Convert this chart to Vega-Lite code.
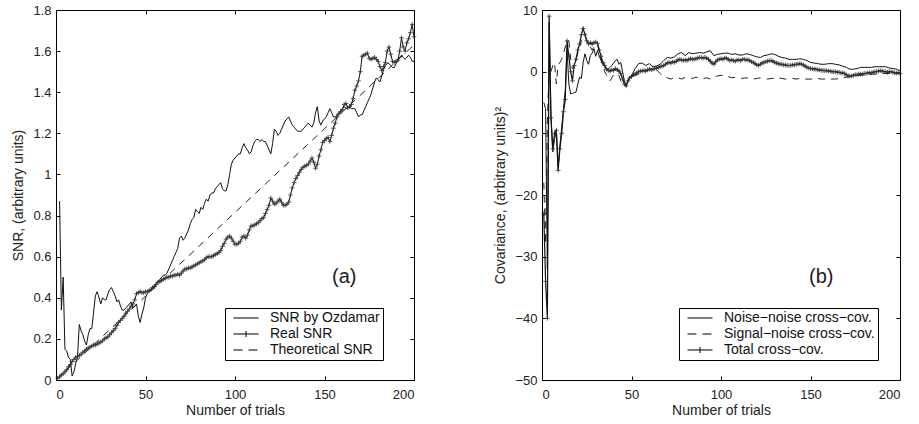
{
"$schema":"https://vega.github.io/schema/vega-lite/v6.json",
"background":"white",
"padding":{"left":11,"top":3,"right":2,"bottom":2},
"spacing":74,
"resolve":{"scale":{"shape":"independent"},"legend":{"shape":"independent"}},
"config":{
 "font":"Liberation Sans",
 "view":{"stroke":"#000","strokeWidth":1},
 "axis":{"domain":false,"grid":false,"tickSize":-4,"tickColor":"#000","labelColor":"#222","labelFontSize":13,"titleFontSize":14,"titleFontWeight":"normal","titleColor":"#222","labelFont":"Liberation Sans","titleFont":"Liberation Sans","format":"~r"},
 "axisX":{"labelPadding":12,"titlePadding":2},
 "axisY":{"labelPadding":9,"titlePadding":7},
 "legend":{"labelFontSize":14,"labelFont":"Liberation Sans","labelColor":"#111","strokeColor":"#000","fillColor":"#fff","padding":3,"symbolSize":100,"symbolStrokeWidth":1,"symbolStrokeColor":"#000","symbolFillColor":"transparent","symbolOpacity":1,"rowPadding":2,"labelOffset":17,"symbolOffset":11,"cornerRadius":0}
},
"datasets":{
"theo":[{"t":0,"v":0},{"t":20,"v":0.163},{"t":40,"v":0.326},{"t":60,"v":0.489},{"t":80,"v":0.652},{"t":100,"v":0.815},{"t":120,"v":0.978},{"t":140,"v":1.141},{"t":160,"v":1.304},{"t":180,"v":1.467},{"t":200,"v":1.63}],
"oz":[{"t":2,"v":0.87},{"t":3,"v":0.34},{"t":4,"v":0.5},{"t":5,"v":0.15},{"t":6,"v":0.14},{"t":7,"v":0.11},{"t":8,"v":0.1},{"t":9,"v":0.02},{"t":10,"v":0.04},{"t":11,"v":0.08},{"t":12,"v":0.11},{"t":13,"v":0.27},{"t":14,"v":0.24},{"t":15,"v":0.22},{"t":16,"v":0.19},{"t":17,"v":0.17},{"t":18,"v":0.22},{"t":19,"v":0.25},{"t":20,"v":0.25},{"t":21,"v":0.33},{"t":22,"v":0.41},{"t":23,"v":0.43},{"t":24,"v":0.4},{"t":25,"v":0.37},{"t":26,"v":0.4},{"t":27,"v":0.39},{"t":28,"v":0.39},{"t":29,"v":0.42},{"t":30,"v":0.44},{"t":31,"v":0.45},{"t":32,"v":0.43},{"t":33,"v":0.41},{"t":34,"v":0.38},{"t":35,"v":0.39},{"t":36,"v":0.36},{"t":37,"v":0.34},{"t":38,"v":0.34},{"t":39,"v":0.35},{"t":40,"v":0.36},{"t":41,"v":0.37},{"t":42,"v":0.38},{"t":43,"v":0.35},{"t":44,"v":0.36},{"t":45,"v":0.37},{"t":46,"v":0.31},{"t":47,"v":0.28},{"t":48,"v":0.32},{"t":49,"v":0.35},{"t":50,"v":0.4},{"t":51,"v":0.42},{"t":52,"v":0.43},{"t":53,"v":0.44},{"t":54,"v":0.45},{"t":55,"v":0.46},{"t":56,"v":0.47},{"t":57,"v":0.48},{"t":58,"v":0.49},{"t":59,"v":0.5},{"t":60,"v":0.51},{"t":61,"v":0.51},{"t":62,"v":0.52},{"t":63,"v":0.54},{"t":64,"v":0.56},{"t":65,"v":0.58},{"t":66,"v":0.6},{"t":67,"v":0.62},{"t":68,"v":0.64},{"t":69,"v":0.69},{"t":70,"v":0.7},{"t":71,"v":0.68},{"t":72,"v":0.69},{"t":73,"v":0.71},{"t":74,"v":0.73},{"t":75,"v":0.76},{"t":76,"v":0.78},{"t":77,"v":0.79},{"t":78,"v":0.83},{"t":79,"v":0.82},{"t":80,"v":0.81},{"t":81,"v":0.84},{"t":82,"v":0.83},{"t":83,"v":0.86},{"t":84,"v":0.88},{"t":85,"v":0.87},{"t":86,"v":0.9},{"t":87,"v":0.91},{"t":88,"v":0.91},{"t":89,"v":0.93},{"t":90,"v":0.94},{"t":91,"v":0.95},{"t":92,"v":0.96},{"t":93,"v":0.93},{"t":94,"v":0.92},{"t":95,"v":0.92},{"t":96,"v":0.95},{"t":97,"v":1.0},{"t":98,"v":1.05},{"t":99,"v":1.07},{"t":100,"v":1.08},{"t":101,"v":1.09},{"t":102,"v":1.1},{"t":103,"v":1.1},{"t":104,"v":1.13},{"t":105,"v":1.15},{"t":106,"v":1.13},{"t":107,"v":1.12},{"t":108,"v":1.1},{"t":109,"v":1.11},{"t":110,"v":1.14},{"t":111,"v":1.16},{"t":112,"v":1.17},{"t":113,"v":1.17},{"t":114,"v":1.16},{"t":115,"v":1.17},{"t":116,"v":1.16},{"t":117,"v":1.16},{"t":118,"v":1.14},{"t":119,"v":1.12},{"t":120,"v":1.1},{"t":121,"v":1.15},{"t":122,"v":1.22},{"t":123,"v":1.21},{"t":124,"v":1.19},{"t":125,"v":1.2},{"t":126,"v":1.22},{"t":127,"v":1.24},{"t":128,"v":1.26},{"t":129,"v":1.27},{"t":130,"v":1.28},{"t":131,"v":1.26},{"t":132,"v":1.24},{"t":133,"v":1.23},{"t":134,"v":1.22},{"t":135,"v":1.21},{"t":136,"v":1.21},{"t":137,"v":1.21},{"t":138,"v":1.22},{"t":139,"v":1.23},{"t":140,"v":1.24},{"t":141,"v":1.25},{"t":142,"v":1.24},{"t":143,"v":1.23},{"t":144,"v":1.25},{"t":145,"v":1.3},{"t":146,"v":1.33},{"t":147,"v":1.26},{"t":148,"v":1.24},{"t":149,"v":1.26},{"t":150,"v":1.27},{"t":151,"v":1.28},{"t":152,"v":1.3},{"t":153,"v":1.32},{"t":154,"v":1.3},{"t":155,"v":1.28},{"t":156,"v":1.28},{"t":157,"v":1.29},{"t":158,"v":1.3},{"t":159,"v":1.31},{"t":160,"v":1.32},{"t":161,"v":1.33},{"t":162,"v":1.32},{"t":163,"v":1.32},{"t":164,"v":1.33},{"t":165,"v":1.32},{"t":166,"v":1.32},{"t":167,"v":1.32},{"t":168,"v":1.3},{"t":169,"v":1.28},{"t":170,"v":1.29},{"t":171,"v":1.29},{"t":172,"v":1.31},{"t":173,"v":1.33},{"t":174,"v":1.35},{"t":175,"v":1.37},{"t":176,"v":1.39},{"t":177,"v":1.42},{"t":178,"v":1.45},{"t":179,"v":1.47},{"t":180,"v":1.46},{"t":181,"v":1.45},{"t":182,"v":1.48},{"t":183,"v":1.51},{"t":184,"v":1.53},{"t":185,"v":1.54},{"t":186,"v":1.54},{"t":187,"v":1.53},{"t":188,"v":1.52},{"t":189,"v":1.52},{"t":190,"v":1.54},{"t":191,"v":1.56},{"t":192,"v":1.57},{"t":193,"v":1.58},{"t":194,"v":1.57},{"t":195,"v":1.56},{"t":196,"v":1.57},{"t":197,"v":1.58},{"t":198,"v":1.57},{"t":199,"v":1.55},{"t":200,"v":1.55}],
"real":[{"t":1,"v":0.01},{"t":2,"v":0.015},{"t":3,"v":0.025},{"t":4,"v":0.03},{"t":5,"v":0.04},{"t":6,"v":0.05},{"t":7,"v":0.065},{"t":8,"v":0.075},{"t":9,"v":0.09},{"t":10,"v":0.1},{"t":11,"v":0.11},{"t":12,"v":0.115},{"t":13,"v":0.12},{"t":14,"v":0.125},{"t":15,"v":0.135},{"t":16,"v":0.14},{"t":17,"v":0.15},{"t":18,"v":0.155},{"t":19,"v":0.16},{"t":20,"v":0.165},{"t":21,"v":0.17},{"t":22,"v":0.17},{"t":23,"v":0.175},{"t":24,"v":0.18},{"t":25,"v":0.185},{"t":26,"v":0.19},{"t":27,"v":0.2},{"t":28,"v":0.205},{"t":29,"v":0.21},{"t":30,"v":0.22},{"t":31,"v":0.23},{"t":32,"v":0.24},{"t":33,"v":0.25},{"t":34,"v":0.265},{"t":35,"v":0.28},{"t":36,"v":0.29},{"t":37,"v":0.3},{"t":38,"v":0.31},{"t":39,"v":0.325},{"t":40,"v":0.335},{"t":41,"v":0.345},{"t":42,"v":0.36},{"t":43,"v":0.37},{"t":44,"v":0.39},{"t":45,"v":0.42},{"t":46,"v":0.425},{"t":47,"v":0.43},{"t":48,"v":0.425},{"t":49,"v":0.425},{"t":50,"v":0.43},{"t":51,"v":0.43},{"t":52,"v":0.435},{"t":53,"v":0.44},{"t":54,"v":0.45},{"t":55,"v":0.455},{"t":56,"v":0.465},{"t":57,"v":0.475},{"t":58,"v":0.48},{"t":59,"v":0.485},{"t":60,"v":0.49},{"t":61,"v":0.495},{"t":62,"v":0.5},{"t":63,"v":0.5},{"t":64,"v":0.505},{"t":65,"v":0.505},{"t":66,"v":0.51},{"t":67,"v":0.51},{"t":68,"v":0.515},{"t":69,"v":0.51},{"t":70,"v":0.52},{"t":71,"v":0.53},{"t":72,"v":0.54},{"t":73,"v":0.54},{"t":74,"v":0.545},{"t":75,"v":0.545},{"t":76,"v":0.55},{"t":77,"v":0.555},{"t":78,"v":0.56},{"t":79,"v":0.565},{"t":80,"v":0.57},{"t":81,"v":0.575},{"t":82,"v":0.58},{"t":83,"v":0.585},{"t":84,"v":0.595},{"t":85,"v":0.6},{"t":86,"v":0.6},{"t":87,"v":0.6},{"t":88,"v":0.605},{"t":89,"v":0.61},{"t":90,"v":0.615},{"t":91,"v":0.62},{"t":92,"v":0.63},{"t":93,"v":0.65},{"t":94,"v":0.665},{"t":95,"v":0.685},{"t":96,"v":0.695},{"t":97,"v":0.7},{"t":98,"v":0.69},{"t":99,"v":0.675},{"t":100,"v":0.66},{"t":101,"v":0.66},{"t":102,"v":0.665},{"t":103,"v":0.675},{"t":104,"v":0.695},{"t":105,"v":0.7},{"t":106,"v":0.69},{"t":107,"v":0.705},{"t":108,"v":0.73},{"t":109,"v":0.75},{"t":110,"v":0.75},{"t":111,"v":0.755},{"t":112,"v":0.76},{"t":113,"v":0.765},{"t":114,"v":0.775},{"t":115,"v":0.785},{"t":116,"v":0.79},{"t":117,"v":0.81},{"t":118,"v":0.83},{"t":119,"v":0.85},{"t":120,"v":0.885},{"t":121,"v":0.87},{"t":122,"v":0.855},{"t":123,"v":0.86},{"t":124,"v":0.87},{"t":125,"v":0.88},{"t":126,"v":0.865},{"t":127,"v":0.85},{"t":128,"v":0.85},{"t":129,"v":0.855},{"t":130,"v":0.865},{"t":131,"v":0.9},{"t":132,"v":0.935},{"t":133,"v":0.96},{"t":134,"v":0.98},{"t":135,"v":0.995},{"t":136,"v":1.01},{"t":137,"v":1.025},{"t":138,"v":1.035},{"t":139,"v":1.04},{"t":140,"v":1.045},{"t":141,"v":1.05},{"t":142,"v":1.065},{"t":143,"v":1.08},{"t":144,"v":1.06},{"t":145,"v":1.03},{"t":146,"v":1.05},{"t":147,"v":1.09},{"t":148,"v":1.12},{"t":149,"v":1.155},{"t":150,"v":1.165},{"t":151,"v":1.175},{"t":152,"v":1.18},{"t":153,"v":1.16},{"t":154,"v":1.19},{"t":155,"v":1.225},{"t":156,"v":1.25},{"t":157,"v":1.28},{"t":158,"v":1.295},{"t":159,"v":1.305},{"t":160,"v":1.315},{"t":161,"v":1.34},{"t":162,"v":1.345},{"t":163,"v":1.325},{"t":164,"v":1.33},{"t":165,"v":1.34},{"t":166,"v":1.37},{"t":167,"v":1.41},{"t":168,"v":1.43},{"t":169,"v":1.455},{"t":170,"v":1.5},{"t":171,"v":1.575},{"t":172,"v":1.58},{"t":173,"v":1.585},{"t":174,"v":1.59},{"t":175,"v":1.565},{"t":176,"v":1.56},{"t":177,"v":1.565},{"t":178,"v":1.57},{"t":179,"v":1.56},{"t":180,"v":1.55},{"t":181,"v":1.525},{"t":182,"v":1.505},{"t":183,"v":1.525},{"t":184,"v":1.545},{"t":185,"v":1.6},{"t":186,"v":1.62},{"t":187,"v":1.585},{"t":188,"v":1.55},{"t":189,"v":1.545},{"t":190,"v":1.55},{"t":191,"v":1.555},{"t":192,"v":1.6},{"t":193,"v":1.665},{"t":194,"v":1.62},{"t":195,"v":1.6},{"t":196,"v":1.64},{"t":197,"v":1.66},{"t":198,"v":1.69},{"t":199,"v":1.73},{"t":200,"v":1.67}],
"tot":[{"t":1,"v":-23},{"t":2,"v":-34},{"t":3,"v":-40},{"t":4,"v":9},{"t":5,"v":-7.5},{"t":6,"v":-12.5},{"t":7,"v":-10},{"t":8,"v":-9.5},{"t":9,"v":-16},{"t":10,"v":-12.5},{"t":11,"v":-10},{"t":12,"v":-6.5},{"t":13,"v":-4.5},{"t":14,"v":5},{"t":15,"v":2.5},{"t":16,"v":0},{"t":17,"v":-1.5},{"t":18,"v":1},{"t":19,"v":2},{"t":20,"v":3.5},{"t":21,"v":4.5},{"t":22,"v":6},{"t":23,"v":7},{"t":24,"v":6},{"t":25,"v":5},{"t":26,"v":4.5},{"t":27,"v":4.7},{"t":28,"v":4.5},{"t":29,"v":4.7},{"t":30,"v":4.8},{"t":31,"v":4.6},{"t":32,"v":3.5},{"t":33,"v":2.5},{"t":34,"v":1.5},{"t":35,"v":1},{"t":36,"v":0.4},{"t":37,"v":0.2},{"t":38,"v":0.1},{"t":39,"v":0.3},{"t":40,"v":0.2},{"t":41,"v":0.5},{"t":42,"v":0.3},{"t":43,"v":0.1},{"t":44,"v":-0.3},{"t":45,"v":-1.2},{"t":46,"v":-2},{"t":47,"v":-2.3},{"t":48,"v":-1.5},{"t":49,"v":-1},{"t":50,"v":-0.8},{"t":51,"v":-0.5},{"t":52,"v":-0.4},{"t":53,"v":-0.2},{"t":54,"v":0},{"t":55,"v":0.1},{"t":56,"v":0.1},{"t":57,"v":0.2},{"t":58,"v":0.1},{"t":59,"v":0.3},{"t":60,"v":0.4},{"t":61,"v":0.3},{"t":62,"v":0.4},{"t":63,"v":0.5},{"t":64,"v":0.6},{"t":65,"v":0.7},{"t":66,"v":0.8},{"t":67,"v":0.9},{"t":68,"v":1},{"t":69,"v":1.2},{"t":70,"v":1.4},{"t":71,"v":1.5},{"t":72,"v":1.4},{"t":73,"v":1.6},{"t":74,"v":1.5},{"t":75,"v":1.7},{"t":76,"v":1.9},{"t":77,"v":2},{"t":78,"v":1.9},{"t":79,"v":1.8},{"t":80,"v":1.9},{"t":81,"v":1.8},{"t":82,"v":2},{"t":83,"v":2.1},{"t":84,"v":2},{"t":85,"v":2},{"t":86,"v":2.1},{"t":87,"v":2.2},{"t":88,"v":2.3},{"t":89,"v":2.3},{"t":90,"v":2.2},{"t":91,"v":2.3},{"t":92,"v":2.2},{"t":93,"v":2},{"t":94,"v":1.7},{"t":95,"v":1.4},{"t":96,"v":1.2},{"t":97,"v":1.6},{"t":98,"v":1.9},{"t":99,"v":2},{"t":100,"v":2.1},{"t":101,"v":2},{"t":102,"v":2.2},{"t":103,"v":2.2},{"t":104,"v":2},{"t":105,"v":1.8},{"t":106,"v":1.9},{"t":107,"v":1.8},{"t":108,"v":1.7},{"t":109,"v":1.9},{"t":110,"v":1.9},{"t":111,"v":1.8},{"t":112,"v":2},{"t":113,"v":2},{"t":114,"v":1.9},{"t":115,"v":1.9},{"t":116,"v":1.8},{"t":117,"v":1.6},{"t":118,"v":1.5},{"t":119,"v":1.3},{"t":120,"v":1.1},{"t":121,"v":1},{"t":122,"v":1.2},{"t":123,"v":1.4},{"t":124,"v":1.5},{"t":125,"v":1.6},{"t":126,"v":1.7},{"t":127,"v":1.8},{"t":128,"v":1.8},{"t":129,"v":1.7},{"t":130,"v":1.5},{"t":131,"v":1.4},{"t":132,"v":1.3},{"t":133,"v":1.2},{"t":134,"v":1.2},{"t":135,"v":1.1},{"t":136,"v":1.1},{"t":137,"v":1},{"t":138,"v":1},{"t":139,"v":1},{"t":140,"v":1.1},{"t":141,"v":1.1},{"t":142,"v":1.2},{"t":143,"v":1.2},{"t":144,"v":1.3},{"t":145,"v":1.2},{"t":146,"v":1.1},{"t":147,"v":0.9},{"t":148,"v":0.7},{"t":149,"v":0.6},{"t":150,"v":0.5},{"t":151,"v":0.5},{"t":152,"v":0.4},{"t":153,"v":0.4},{"t":154,"v":0.3},{"t":155,"v":0.3},{"t":156,"v":0.2},{"t":157,"v":0.2},{"t":158,"v":0.15},{"t":159,"v":0.2},{"t":160,"v":0.1},{"t":161,"v":0.1},{"t":162,"v":0},{"t":163,"v":0},{"t":164,"v":0},{"t":165,"v":-0.1},{"t":166,"v":-0.1},{"t":167,"v":-0.2},{"t":168,"v":-0.2},{"t":169,"v":-0.3},{"t":170,"v":-0.5},{"t":171,"v":-0.7},{"t":172,"v":-0.7},{"t":173,"v":-0.7},{"t":174,"v":-0.6},{"t":175,"v":-0.5},{"t":176,"v":-0.5},{"t":177,"v":-0.4},{"t":178,"v":-0.4},{"t":179,"v":-0.4},{"t":180,"v":-0.3},{"t":181,"v":-0.3},{"t":182,"v":-0.2},{"t":183,"v":-0.2},{"t":184,"v":-0.2},{"t":185,"v":-0.1},{"t":186,"v":0},{"t":187,"v":0},{"t":188,"v":0.1},{"t":189,"v":0.15},{"t":190,"v":0.1},{"t":191,"v":0},{"t":192,"v":0},{"t":193,"v":-0.1},{"t":194,"v":0},{"t":195,"v":0},{"t":196,"v":-0.1},{"t":197,"v":-0.2},{"t":198,"v":-0.2},{"t":199,"v":-0.2},{"t":200,"v":-0.3}],
"nn":[{"t":1,"v":-5},{"t":2,"v":-6},{"t":3,"v":-32},{"t":4,"v":8},{"t":5,"v":-7},{"t":6,"v":-13},{"t":7,"v":-11},{"t":8,"v":-9.5},{"t":9,"v":-15.5},{"t":10,"v":-12},{"t":11,"v":-9},{"t":12,"v":-6},{"t":13,"v":-3},{"t":14,"v":3.5},{"t":15,"v":-2},{"t":16,"v":-3.6},{"t":17,"v":-3.5},{"t":18,"v":-3.4},{"t":19,"v":-3.3},{"t":20,"v":-2},{"t":21,"v":-0.9},{"t":22,"v":-1.1},{"t":23,"v":1.5},{"t":24,"v":2.9},{"t":25,"v":1.8},{"t":26,"v":1.2},{"t":27,"v":2.6},{"t":28,"v":3},{"t":29,"v":3.7},{"t":30,"v":2.5},{"t":31,"v":3.4},{"t":32,"v":2.5},{"t":33,"v":1.8},{"t":34,"v":1.2},{"t":35,"v":0.8},{"t":36,"v":0.4},{"t":37,"v":0.5},{"t":38,"v":0.7},{"t":39,"v":1},{"t":40,"v":1.4},{"t":41,"v":1.8},{"t":42,"v":2},{"t":43,"v":1.2},{"t":44,"v":1.5},{"t":45,"v":0},{"t":46,"v":-1.5},{"t":47,"v":-2.3},{"t":48,"v":-1.5},{"t":49,"v":-1},{"t":50,"v":-0.7},{"t":52,"v":0.5},{"t":54,"v":1.3},{"t":56,"v":1.4},{"t":58,"v":1},{"t":60,"v":1.3},{"t":62,"v":0.8},{"t":64,"v":0.9},{"t":66,"v":1.2},{"t":68,"v":1.8},{"t":70,"v":2.3},{"t":72,"v":2.2},{"t":74,"v":2.4},{"t":76,"v":2.9},{"t":78,"v":3.1},{"t":80,"v":2.6},{"t":82,"v":3.1},{"t":84,"v":2.9},{"t":86,"v":3},{"t":88,"v":3.1},{"t":90,"v":3},{"t":92,"v":3.2},{"t":94,"v":3.4},{"t":96,"v":2.6},{"t":98,"v":2.8},{"t":100,"v":2.9},{"t":102,"v":3},{"t":104,"v":3},{"t":106,"v":2.8},{"t":108,"v":2.9},{"t":110,"v":2.7},{"t":112,"v":2.7},{"t":114,"v":2.9},{"t":116,"v":2.8},{"t":118,"v":2.6},{"t":120,"v":2.4},{"t":122,"v":2.3},{"t":124,"v":2.6},{"t":126,"v":2.7},{"t":128,"v":2.9},{"t":130,"v":2.8},{"t":132,"v":2.5},{"t":134,"v":2.3},{"t":136,"v":2.2},{"t":138,"v":2},{"t":140,"v":2},{"t":142,"v":2},{"t":144,"v":2.1},{"t":146,"v":2},{"t":148,"v":1.8},{"t":150,"v":1.5},{"t":152,"v":1.4},{"t":154,"v":1.3},{"t":156,"v":1.2},{"t":158,"v":1.2},{"t":160,"v":1.3},{"t":162,"v":1.3},{"t":164,"v":1.2},{"t":166,"v":1.1},{"t":168,"v":0.9},{"t":170,"v":0.7},{"t":172,"v":0.4},{"t":174,"v":0.4},{"t":176,"v":0.5},{"t":178,"v":0.7},{"t":180,"v":0.7},{"t":182,"v":0.7},{"t":184,"v":0.7},{"t":186,"v":0.8},{"t":188,"v":0.8},{"t":190,"v":0.8},{"t":192,"v":0.8},{"t":194,"v":0.6},{"t":196,"v":0.5},{"t":198,"v":0.4},{"t":200,"v":0.15}],
"sn":[{"t":1,"v":-18},{"t":2,"v":-28},{"t":3,"v":-8},{"t":4,"v":1},{"t":5,"v":0},{"t":6,"v":1},{"t":7,"v":1.5},{"t":8,"v":-2},{"t":9,"v":1},{"t":10,"v":1.5},{"t":11,"v":2},{"t":12,"v":3},{"t":13,"v":4},{"t":14,"v":5},{"t":15,"v":5},{"t":16,"v":2},{"t":17,"v":0.5},{"t":18,"v":1},{"t":19,"v":2},{"t":20,"v":3},{"t":21,"v":4},{"t":22,"v":5},{"t":23,"v":5.5},{"t":24,"v":6},{"t":25,"v":5},{"t":26,"v":4.5},{"t":27,"v":4},{"t":28,"v":3.5},{"t":29,"v":4},{"t":30,"v":4.5},{"t":31,"v":4.5},{"t":32,"v":3},{"t":33,"v":2},{"t":34,"v":1},{"t":35,"v":0},{"t":36,"v":-0.5},{"t":37,"v":-1},{"t":38,"v":-1.5},{"t":39,"v":-1},{"t":40,"v":-0.5},{"t":41,"v":-0.3},{"t":42,"v":-0.5},{"t":43,"v":-0.6},{"t":44,"v":-1.5},{"t":45,"v":-1.8},{"t":46,"v":-2.2},{"t":47,"v":-2.3},{"t":48,"v":-1.5},{"t":49,"v":-1},{"t":50,"v":-0.8},{"t":52,"v":-0.6},{"t":54,"v":-0.4},{"t":56,"v":-0.2},{"t":58,"v":0.2},{"t":60,"v":0.4},{"t":62,"v":0.6},{"t":64,"v":0.3},{"t":66,"v":-0.3},{"t":68,"v":-0.8},{"t":70,"v":-1},{"t":72,"v":-1.2},{"t":74,"v":-0.9},{"t":76,"v":-1},{"t":78,"v":-1.2},{"t":80,"v":-0.9},{"t":82,"v":-0.9},{"t":84,"v":-1.1},{"t":86,"v":-0.9},{"t":88,"v":-1},{"t":90,"v":-1.1},{"t":92,"v":-1},{"t":94,"v":-1.2},{"t":96,"v":-0.9},{"t":98,"v":-0.7},{"t":100,"v":-0.6},{"t":102,"v":-0.6},{"t":104,"v":-0.8},{"t":106,"v":-1},{"t":108,"v":-0.9},{"t":110,"v":-1},{"t":112,"v":-1.1},{"t":114,"v":-1},{"t":116,"v":-1.1},{"t":118,"v":-1.2},{"t":120,"v":-1.1},{"t":122,"v":-1},{"t":124,"v":-1.1},{"t":126,"v":-1.2},{"t":128,"v":-1.1},{"t":130,"v":-1.1},{"t":132,"v":-1},{"t":134,"v":-1.1},{"t":136,"v":-1.2},{"t":138,"v":-1.1},{"t":140,"v":-1.1},{"t":142,"v":-1.2},{"t":144,"v":-1.1},{"t":146,"v":-1.2},{"t":148,"v":-1.2},{"t":150,"v":-1.2},{"t":152,"v":-1.2},{"t":154,"v":-1.1},{"t":156,"v":-1.2},{"t":158,"v":-1.2},{"t":160,"v":-1.2},{"t":162,"v":-1.2},{"t":164,"v":-1.2},{"t":166,"v":-1.1},{"t":168,"v":-1},{"t":170,"v":-0.9},{"t":172,"v":-0.8},{"t":174,"v":-0.7},{"t":176,"v":-0.6},{"t":178,"v":-0.6},{"t":180,"v":-0.5},{"t":182,"v":-0.5},{"t":184,"v":-0.4},{"t":186,"v":-0.4},{"t":188,"v":-0.4},{"t":190,"v":-0.3},{"t":192,"v":-0.3},{"t":194,"v":-0.3},{"t":196,"v":-0.3},{"t":198,"v":-0.3},{"t":200,"v":-0.3}],
"legA":[{"s":"SNR by Ozdamar"},{"s":"Real SNR"},{"s":"Theoretical SNR"}],
"legB":[{"s":"Noise−noise cross−cov."},{"s":"Signal−noise cross−cov."},{"s":"Total cross−cov."}],
"labA":[{"t":161,"v":0.5,"lab":"(a)"}],
"labB":[{"t":156,"v":-33.3,"lab":"(b)"}]
},
"hconcat":[
{
 "width":358,"height":370,
 "resolve":{"axis":{"x":"independent","y":"independent"}},
 "layer":[
  {"layer":[
   {"data":{"name":"theo"},"mark":{"type":"line","color":"#222","strokeWidth":1,"strokeDash":[7,6]},
    "encoding":{"x":{"field":"t","type":"quantitative","scale":{"domain":[0,200],"nice":false},"axis":{"values":[0,50,100,150,200],"title":"Number of trials"}},
                "y":{"field":"v","type":"quantitative","scale":{"domain":[0,1.8],"nice":false},"axis":{"values":[0,0.2,0.4,0.6,0.8,1,1.2,1.4,1.6,1.8],"title":"SNR, (arbitrary units)"}}}},
   {"data":{"name":"oz"},"mark":{"type":"line","color":"#111","strokeWidth":1},
    "encoding":{"x":{"field":"t","type":"quantitative"},"y":{"field":"v","type":"quantitative"}}},
   {"data":{"name":"real"},"mark":{"type":"line","color":"#111","strokeWidth":1},
    "encoding":{"x":{"field":"t","type":"quantitative"},"y":{"field":"v","type":"quantitative"}}},
   {"data":{"name":"real"},"mark":{"type":"point","shape":"M-1,0H1M0,-1V1","size":22,"filled":false,"color":"#333","strokeWidth":0.8,"opacity":1},
    "encoding":{"x":{"field":"t","type":"quantitative"},"y":{"field":"v","type":"quantitative"}}},
   {"data":{"name":"labA"},"mark":{"type":"text","fontSize":20,"font":"Liberation Sans","color":"#222"},
    "encoding":{"x":{"field":"t","type":"quantitative"},"y":{"field":"v","type":"quantitative"},"text":{"field":"lab"}}},
   {"data":{"name":"legA"},"mark":{"type":"point","opacity":0,"color":"#000"},
    "encoding":{"shape":{"field":"s","type":"nominal","scale":{"domain":["SNR by Ozdamar","Real SNR","Theoretical SNR"],"range":["M-2.5,0H2.5","M-2.5,0H2.5M0,-0.6V0.6","M-2.5,0H-0.7M0.5,0H2.3"]},
      "legend":{"orient":"none","legendX":169,"legendY":298,"title":null}}}}
  ]},
  {"data":{"name":"theo"},"mark":{"type":"line","opacity":0},
   "encoding":{"x":{"field":"t","type":"quantitative","axis":{"orient":"top","labels":false,"title":null,"values":[0,50,100,150,200]}},
               "y":{"field":"v","type":"quantitative","axis":{"orient":"right","labels":false,"title":null,"values":[0,0.2,0.4,0.6,0.8,1,1.2,1.4,1.6,1.8]}}}}
 ]
},
{
 "width":358,"height":370,
 "resolve":{"axis":{"x":"independent","y":"independent"}},
 "layer":[
  {"layer":[
   {"data":{"name":"sn"},"mark":{"type":"line","color":"#222","strokeWidth":1,"strokeDash":[7,6]},
    "encoding":{"x":{"field":"t","type":"quantitative","scale":{"domain":[0,200],"nice":false},"axis":{"values":[0,50,100,150,200],"title":"Number of trials"}},
                "y":{"field":"v","type":"quantitative","scale":{"domain":[-50,10],"nice":false},"axis":{"values":[-50,-40,-30,-20,-10,0,10],"title":"Covariance, (arbitrary units)²"}}}},
   {"data":{"name":"nn"},"mark":{"type":"line","color":"#111","strokeWidth":1},
    "encoding":{"x":{"field":"t","type":"quantitative"},"y":{"field":"v","type":"quantitative"}}},
   {"data":{"name":"tot"},"mark":{"type":"line","color":"#111","strokeWidth":1.2},
    "encoding":{"x":{"field":"t","type":"quantitative"},"y":{"field":"v","type":"quantitative"}}},
   {"data":{"name":"tot"},"mark":{"type":"point","shape":"M-1,0H1M0,-1V1","size":22,"filled":false,"color":"#333","strokeWidth":0.8,"opacity":1},
    "encoding":{"x":{"field":"t","type":"quantitative"},"y":{"field":"v","type":"quantitative"}}},
   {"data":{"name":"labB"},"mark":{"type":"text","fontSize":20,"font":"Liberation Sans","color":"#222"},
    "encoding":{"x":{"field":"t","type":"quantitative"},"y":{"field":"v","type":"quantitative"},"text":{"field":"lab"}}},
   {"data":{"name":"legB"},"mark":{"type":"point","opacity":0,"color":"#000"},
    "encoding":{"shape":{"field":"s","type":"nominal","scale":{"domain":["Noise−noise cross−cov.","Signal−noise cross−cov.","Total cross−cov."],"range":["M-2.5,0H2.5","M-2.5,0H-0.7M0.5,0H2.3","M-2.5,0H2.5M0,-0.6V0.6"]},
      "legend":{"orient":"none","legendX":137,"legendY":298,"title":null}}}}
  ]},
  {"data":{"name":"sn"},"mark":{"type":"line","opacity":0},
   "encoding":{"x":{"field":"t","type":"quantitative","axis":{"orient":"top","labels":false,"title":null,"values":[0,50,100,150,200]}},
               "y":{"field":"v","type":"quantitative","axis":{"orient":"right","labels":false,"title":null,"values":[-50,-40,-30,-20,-10,0,10]}}}}
 ]
}
]
}
